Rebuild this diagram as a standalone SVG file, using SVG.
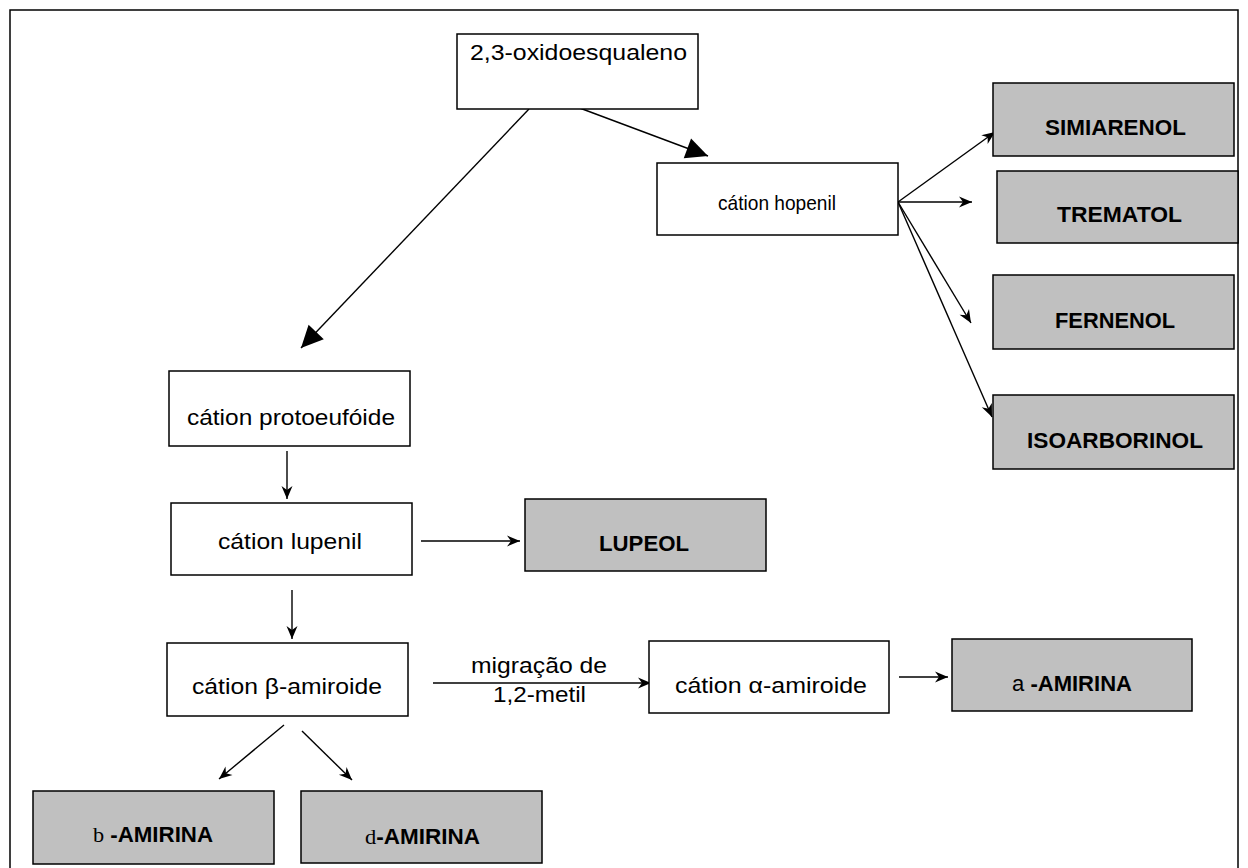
<svg xmlns="http://www.w3.org/2000/svg" width="1248" height="868" viewBox="0 0 1248 868">
  <style>
    .frame { fill: none; stroke: #000; stroke-width: 1.5; }
    .box { fill: #fff; stroke: #000; stroke-width: 1.5; }
    .prod { fill: #c0c0c0; stroke: #000; stroke-width: 1.5; }
    .lbl { font-family: "Liberation Sans", Arial, sans-serif; font-size: 22px; fill: #000; }
    .small { font-size: 21px; }
    .bold { font-family: "Liberation Sans", Arial, sans-serif; font-weight: bold; font-size: 22px; fill: #000; }
    .sym { font-family: "Liberation Serif", "Times New Roman", serif; font-weight: normal; }
    .symsans { font-family: "Liberation Sans", Arial, sans-serif; font-weight: normal; }
    .edge { fill: none; stroke: #000; stroke-width: 1.4; }
  </style>
  <defs>
    <marker id="arr" markerUnits="userSpaceOnUse" viewBox="-14 -7 15 14" markerWidth="15" markerHeight="14" refX="0" refY="0" orient="auto">
      <path d="M0,0 L-13,-5.5 L-9,0 L-13,5.5 z" fill="#000"/>
    </marker>
    <marker id="tri" markerUnits="userSpaceOnUse" viewBox="-23 -12 24 24" markerWidth="24" markerHeight="24" refX="0" refY="0" orient="auto">
      <path d="M0,0 L-22,-10.5 L-22,10.5 z" fill="#000"/>
    </marker>
  </defs>

  <rect class="frame" x="10" y="10" width="1228" height="880"/>

  <g id="connectors">
    <line class="edge" x1="577" y1="107" x2="708" y2="156" marker-end="url(#tri)"/>
    <line class="edge" x1="529" y1="109" x2="301" y2="348" marker-end="url(#tri)"/>
    <line class="edge" x1="287" y1="451" x2="287" y2="499" marker-end="url(#arr)"/>
    <line class="edge" x1="421" y1="541" x2="520" y2="541" marker-end="url(#arr)"/>
    <line class="edge" x1="292" y1="590" x2="292" y2="639" marker-end="url(#arr)"/>
    <line class="edge" x1="284" y1="725" x2="219" y2="779" marker-end="url(#arr)"/>
    <line class="edge" x1="302" y1="731" x2="352" y2="780" marker-end="url(#arr)"/>
    <line class="edge" x1="433" y1="683" x2="651" y2="683" marker-end="url(#arr)"/>
    <line class="edge" x1="899" y1="677" x2="948" y2="677" marker-end="url(#arr)"/>
    <line class="edge" x1="898" y1="202" x2="995" y2="132" marker-end="url(#arr)"/>
    <line class="edge" x1="898" y1="202" x2="972" y2="202" marker-end="url(#arr)"/>
    <line class="edge" x1="898" y1="202" x2="971" y2="323" marker-end="url(#arr)"/>
    <line class="edge" x1="898" y1="202" x2="992" y2="417" marker-end="url(#arr)"/>
    <text class="lbl" x="471" y="673" textLength="136" lengthAdjust="spacingAndGlyphs">migração de</text>
    <text class="lbl" x="493" y="702" textLength="93" lengthAdjust="spacingAndGlyphs">1,2-metil</text>
  </g>

  <g id="oxidoesqualeno">
    <rect class="box" x="457" y="34" width="241" height="75"/>
    <text class="lbl" x="470" y="60" textLength="217" lengthAdjust="spacingAndGlyphs">2,3-oxidoesqualeno</text>
  </g>

  <g id="hopenil">
    <rect class="box" x="657" y="163" width="241" height="72"/>
    <text class="lbl small" x="718" y="210" textLength="118" lengthAdjust="spacingAndGlyphs">cátion hopenil</text>
  </g>

  <g id="protoeufoide">
    <rect class="box" x="169" y="371" width="241" height="75"/>
    <text class="lbl" x="187" y="425" textLength="208" lengthAdjust="spacingAndGlyphs">cátion protoeufóide</text>
  </g>

  <g id="lupenil">
    <rect class="box" x="171" y="503" width="241" height="72"/>
    <text class="lbl" x="218" y="549" textLength="144" lengthAdjust="spacingAndGlyphs">cátion lupenil</text>
  </g>

  <g id="beta-amiroide">
    <rect class="box" x="167" y="643" width="241" height="73"/>
    <text class="lbl" x="192" y="694" textLength="190" lengthAdjust="spacingAndGlyphs">cátion β-amiroide</text>
  </g>

  <g id="alfa-amiroide">
    <rect class="box" x="649" y="641" width="240" height="72"/>
    <text class="lbl" x="675" y="693" textLength="192" lengthAdjust="spacingAndGlyphs">cátion α-amiroide</text>
  </g>

  <g id="simiarenol">
    <rect class="prod" x="993" y="83" width="241" height="73"/>
    <text class="bold" x="1045" y="135" textLength="141" lengthAdjust="spacingAndGlyphs">SIMIARENOL</text>
  </g>

  <g id="trematol">
    <rect class="prod" x="997" y="171" width="241" height="72"/>
    <text class="bold" x="1057" y="222" textLength="125" lengthAdjust="spacingAndGlyphs">TREMATOL</text>
  </g>

  <g id="fernenol">
    <rect class="prod" x="993" y="275" width="241" height="74"/>
    <text class="bold" x="1055" y="328" textLength="120" lengthAdjust="spacingAndGlyphs">FERNENOL</text>
  </g>

  <g id="isoarborinol">
    <rect class="prod" x="993" y="395" width="241" height="74"/>
    <text class="bold" x="1027" y="448" textLength="176" lengthAdjust="spacingAndGlyphs">ISOARBORINOL</text>
  </g>

  <g id="lupeol">
    <rect class="prod" x="525" y="499" width="241" height="72"/>
    <text class="bold" x="599" y="551" textLength="90" lengthAdjust="spacingAndGlyphs">LUPEOL</text>
  </g>

  <g id="a-amirina">
    <rect class="prod" x="952" y="639" width="240" height="72"/>
    <text class="bold" x="1012" y="691" textLength="120" lengthAdjust="spacingAndGlyphs"><tspan class="symsans">a</tspan> -AMIRINA</text>
  </g>

  <g id="b-amirina">
    <rect class="prod" x="33" y="791" width="241" height="73"/>
    <text class="bold" x="93" y="842" textLength="120" lengthAdjust="spacingAndGlyphs"><tspan class="sym">b</tspan> -AMIRINA</text>
  </g>

  <g id="d-amirina">
    <rect class="prod" x="301" y="791" width="241" height="72"/>
    <text class="bold" x="365" y="844" textLength="115" lengthAdjust="spacingAndGlyphs"><tspan class="sym">d</tspan>-AMIRINA</text>
  </g>
</svg>
